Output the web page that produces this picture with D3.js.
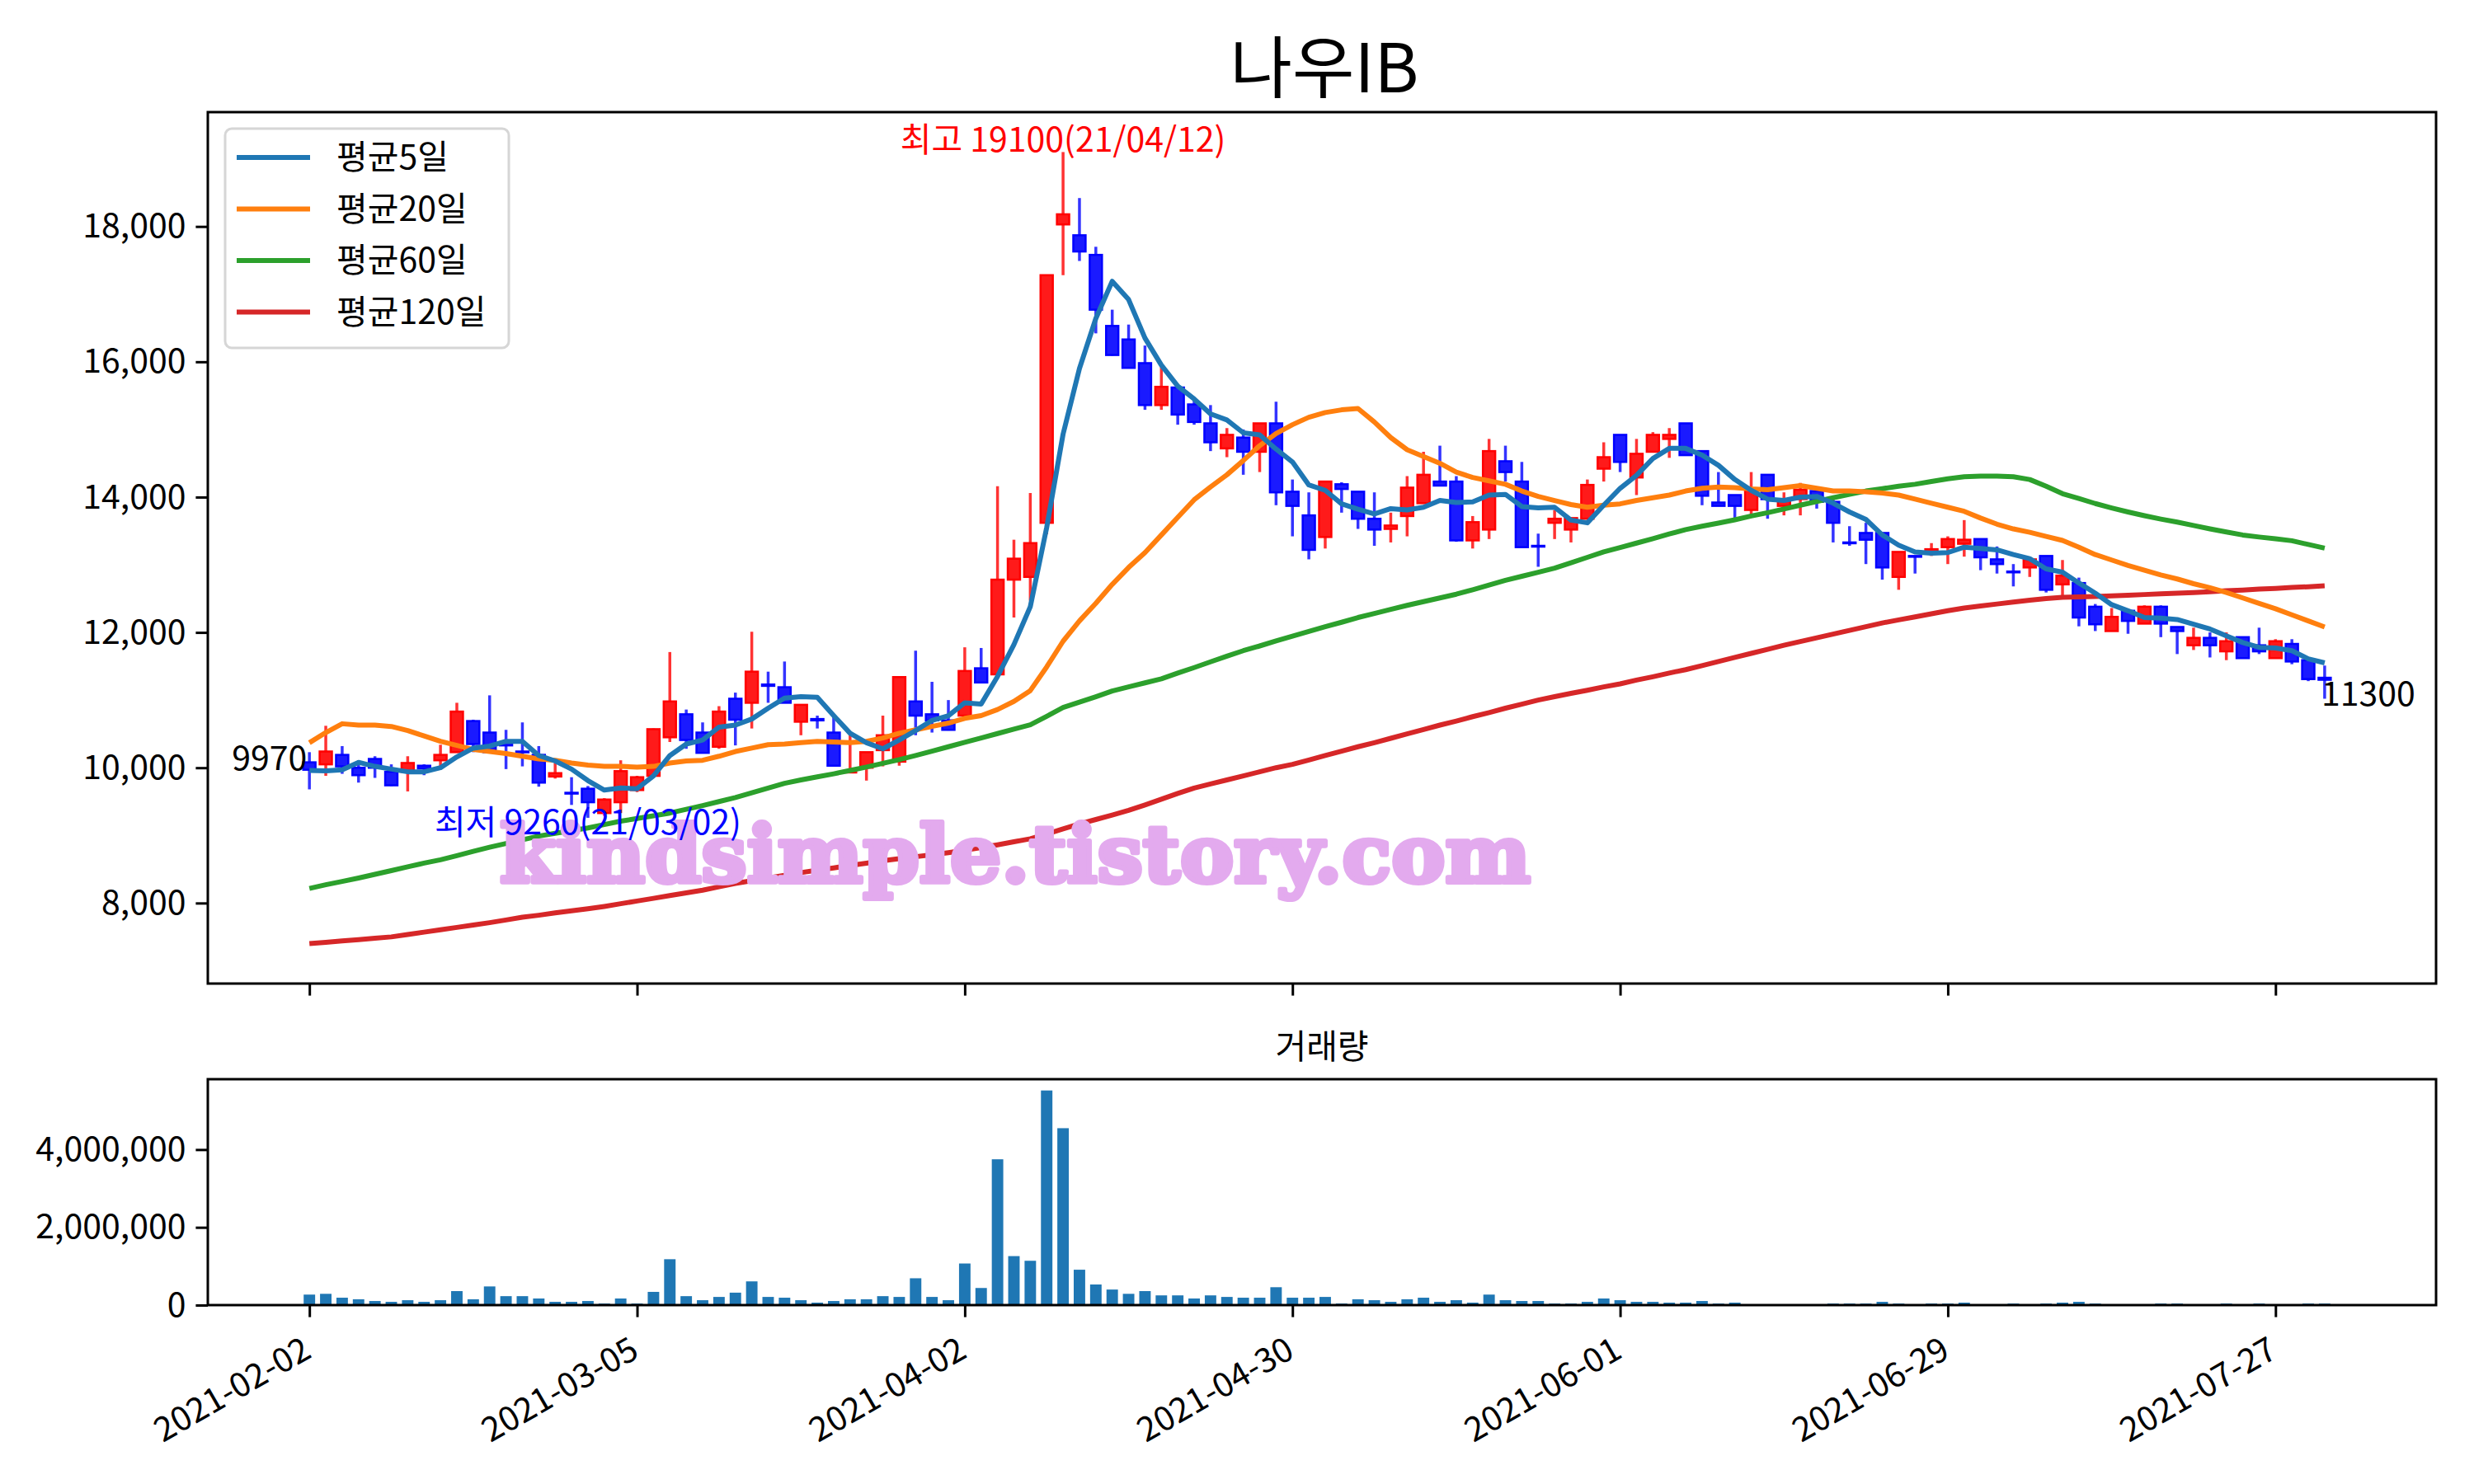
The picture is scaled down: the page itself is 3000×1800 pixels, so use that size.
<!doctype html>
<html>
<head>
<meta charset="utf-8">
<script src="https://d3js.org/d3.v7.min.js"></script>
<style>
  body { margin: 0; background: #fff; }
  text { font-family: "Noto Sans CJK KR", "Noto Sans", sans-serif; }
</style>
</head>
<body>
<svg id="chart" width="3000" height="1800"></svg>
<script>

// daily prices, 2021-02-02 .. 2021-07-30 (124 trading days)
var openP = [10080,10050,10190,10000,10130,9940,9940,10030,10110,10230,10690,10520,10370,10240,10190,9870,9630,9690,9330,9490,
  9670,9880,10450,10790,10520,10310,11020,10960,11230,11190,10680,10720,10520,9930,10000,10260,10090,10980,10790,10700,
  10770,11470,11380,12780,12820,13620,18030,17870,17580,16530,16330,15980,15360,15620,15370,15090,14720,14880,14670,15090,
  14080,13730,13410,14190,14080,13680,13530,13720,13910,14230,14230,13360,13520,14530,14230,13280,13620,13520,13680,14420,
  14920,14290,14670,14860,15090,14680,13920,14030,13810,14330,13870,13970,14090,13930,13330,13470,13470,12820,13130,13190,
  13260,13310,13380,13080,12900,12960,13130,12710,12730,12380,12020,12320,12130,12380,12080,11810,11920,11720,11930,11810,
  11620,11830,11590,11330];
var highP = [10230,10620,10320,10110,10170,10050,10170,10050,10340,10960,10710,11070,10560,10670,10320,10070,9860,9730,9550,10110,
  9880,10580,11710,10860,10670,10910,11110,12010,11420,11570,10930,10770,10770,10480,10230,10770,11340,11730,11270,11000,
  11780,11770,14160,13370,14060,17280,19100,18420,17700,16770,16550,16240,15930,15620,15470,15360,15020,15000,15090,15410,
  14260,14070,14230,14220,14080,14070,13770,14310,14670,14760,14310,13720,14860,14760,14520,13460,13810,13690,14260,14810,
  14920,14860,14960,15020,15090,14680,14370,14030,14370,14330,14070,14210,14090,13970,13570,13620,13470,13190,13130,13320,
  13420,13660,13380,13270,13010,13080,13130,13070,12810,12420,12360,12320,12400,12400,12080,12070,12000,12000,11930,12070,
  11900,11900,11590,11510];
var lowP = [9680,9880,9910,9780,9850,9730,9650,9890,10020,10230,10230,10230,9980,10020,9720,9840,9450,9260,9290,9330,
  9640,9860,10380,10280,10210,10280,10330,10580,10960,10960,10480,10580,10020,9920,9810,10020,10030,10480,10520,10550,
  10770,11260,11380,12220,12470,13450,17280,17490,16420,16090,15910,15290,15290,15070,15070,14680,14590,14330,14370,13880,
  13420,13080,13240,13770,13530,13280,13330,13420,13910,14170,13340,13240,13380,14230,13260,12970,13380,13330,13680,14230,
  14370,14030,14670,14580,14620,13880,13870,13690,13740,13680,13730,13730,13830,13330,13280,13010,12780,12630,12870,13130,
  13010,13120,12920,12870,12680,12820,12590,12530,12090,12020,12020,11980,12130,11930,11680,11740,11630,11590,11620,11680,
  11620,11530,11280,11020];
var closeP = [9970,10240,10020,9890,10000,9740,10070,9990,10190,10830,10350,10230,10330,10230,9780,9920,9620,9490,9530,9950,
  9860,10570,10980,10410,10220,10830,10710,11420,11210,10960,10930,10700,10030,9950,10230,10480,11340,10770,10700,10560,
  11430,11260,12780,13090,13320,17280,18180,17630,16770,16100,15910,15360,15630,15220,15110,14810,14920,14670,15090,14070,
  13870,13220,14230,14120,13680,13520,13580,14140,14330,14170,13360,13630,14680,14370,13260,13270,13680,13690,14180,14590,
  14520,14640,14920,14920,14620,14020,13870,13870,14110,13970,13940,14110,13930,13620,13320,13370,12960,13190,13120,13230,
  13380,13370,13110,13010,12890,13080,12630,12840,12220,12120,12230,12170,12380,12130,12020,11920,11810,11870,11620,11720,
  11870,11570,11310,11300];
var volume = [270000,290000,190000,150000,105000,84000,126000,84000,126000,360000,150000,480000,230000,230000,170000,84000,84000,105000,40000,170000,
  40000,340000,1180000,230000,126000,210000,320000,610000,210000,190000,126000,63000,105000,150000,150000,230000,210000,690000,210000,126000,
  1070000,440000,3750000,1260000,1140000,5520000,4550000,910000,530000,400000,290000,360000,250000,250000,170000,250000,210000,190000,190000,460000,
  190000,190000,210000,40000,150000,126000,84000,150000,190000,84000,126000,63000,270000,126000,105000,105000,40000,40000,84000,170000,
  126000,84000,84000,63000,63000,105000,40000,63000,5000,5000,5000,5000,5000,40000,40000,40000,84000,40000,5000,40000,
  40000,63000,5000,5000,40000,5000,40000,63000,84000,40000,5000,5000,5000,40000,40000,5000,5000,40000,5000,40000,
  5000,5000,40000,40000];

// moving averages as drawn
var ma5 = [9960,9955,9970,10080,10020,9980,9940,9940,10000,10160,10290,10320,10390,10390,10180,10100,9980,9810,9670,9700,
  9690,9880,10180,10350,10410,10600,10630,10720,10880,11030,11050,11040,10770,10510,10370,10280,10410,10550,10700,10770,
  10960,10940,11350,11820,12380,13550,14930,15900,16640,17190,16920,16350,15950,15640,15450,15230,15140,14950,14920,14710,
  14520,14180,14100,13900,13820,13750,13830,13810,13850,13950,13920,13930,14030,14040,13860,13840,13850,13660,13620,13880,
  14130,14320,14570,14720,14720,14620,14470,14260,14100,13970,13950,14000,14010,13910,13780,13670,13440,13290,13190,13170,
  13180,13260,13240,13220,13150,13090,12940,12890,12730,12580,12410,12320,12220,12210,12190,12120,12050,11950,11850,11780,
  11770,11730,11610,11550];
var ma20 = [10370,10520,10650,10630,10630,10610,10550,10470,10390,10330,10270,10240,10210,10170,10130,10110,10070,10040,10020,10020,
  10010,10020,10070,10100,10110,10170,10240,10290,10340,10350,10370,10390,10380,10370,10390,10440,10510,10560,10610,10660,
  10730,10770,10860,10980,11140,11490,11870,12170,12430,12710,12960,13180,13440,13700,13960,14150,14330,14540,14760,14940,
  15070,15180,15250,15290,15310,15110,14880,14700,14600,14500,14370,14290,14240,14190,14090,14010,13950,13890,13850,13880,
  13900,13950,13990,14030,14090,14130,14150,14140,14120,14110,14140,14170,14130,14090,14090,14080,14060,14030,13970,13910,
  13850,13790,13690,13600,13530,13480,13420,13360,13260,13150,13070,12990,12920,12850,12790,12720,12660,12590,12510,12430,
  12350,12260,12170,12080];
var ma60 = [8215,8270,8320,8370,8425,8480,8535,8590,8640,8700,8765,8825,8880,8935,8990,9030,9070,9110,9160,9210,
  9250,9290,9330,9385,9440,9500,9560,9630,9700,9770,9820,9865,9910,9960,10010,10065,10120,10180,10245,10310,
  10375,10440,10505,10570,10635,10760,10890,10970,11050,11135,11195,11255,11315,11400,11480,11565,11650,11730,11800,11875,
  11945,12015,12085,12150,12220,12280,12340,12400,12455,12510,12565,12630,12700,12770,12830,12890,12950,13030,13110,13190,
  13255,13320,13385,13455,13520,13570,13615,13665,13720,13770,13825,13880,13935,13990,14040,14090,14125,14160,14190,14230,
  14270,14300,14310,14310,14300,14260,14160,14050,13980,13905,13840,13780,13725,13675,13630,13580,13530,13485,13440,13410,
  13385,13355,13300,13245];
var ma120 = [7400,7420,7440,7460,7480,7500,7535,7570,7605,7640,7675,7710,7750,7790,7820,7855,7885,7915,7950,7990,
  8030,8070,8110,8150,8190,8240,8290,8330,8370,8410,8450,8485,8520,8555,8590,8625,8655,8685,8715,8745,
  8780,8820,8860,8905,8950,9020,9095,9170,9235,9300,9370,9450,9535,9620,9700,9760,9820,9880,9940,10000,
  10050,10115,10180,10245,10310,10370,10435,10500,10565,10630,10690,10755,10815,10880,10940,11000,11050,11100,11145,11195,
  11240,11295,11345,11400,11450,11510,11570,11630,11690,11750,11810,11865,11920,11975,12030,12085,12140,12185,12230,12275,
  12320,12360,12390,12420,12450,12475,12500,12520,12525,12530,12540,12550,12560,12570,12580,12590,12600,12615,12625,12640,
  12650,12665,12675,12690];

var tickIdx = [0, 20, 40, 60, 80, 100, 120];
var tickLabels = ["2021-02-02","2021-03-05","2021-04-02","2021-04-30","2021-06-01","2021-06-29","2021-07-27"];
var priceTicks = [8000, 10000, 12000, 14000, 16000, 18000];
var volTicks = [0, 2000000, 4000000];
var maNames = ["평균5일","평균20일","평균60일","평균120일"];
var maColors = ["#1f77b4","#ff7f0e","#2ca02c","#d62728"];

var svg = d3.select("#chart");
var N = closeP.length;

var x = d3.scaleLinear().domain([-6.2, 129.8]).range([252, 2954]);
var yP = d3.scaleLinear().domain([6810, 19690]).range([1193, 136]);
var yV = d3.scaleLinear().domain([0, 5810000]).range([1583, 1309]);

var fmt = d3.format(",");
var fs = 41;

// title
svg.append("text")
   .attr("x", 1606).attr("y", 112)
   .attr("text-anchor", "middle")
   .attr("font-size", 82)
   .text("나우IB");

// ---- price panel ----
var yAxis = svg.append("g")
   .attr("transform", "translate(252,0)")
   .call(d3.axisLeft(yP).tickValues(priceTicks).tickFormat(fmt).tickSize(14.6).tickPadding(12));
yAxis.select(".domain").remove();
yAxis.selectAll("line").attr("stroke-width", 3);
yAxis.selectAll("text").attr("font-size", fs).attr("fill", "#000");

var xAxisTop = svg.append("g")
   .attr("transform", "translate(0,1193)")
   .call(d3.axisBottom(x).tickValues(tickIdx).tickFormat("").tickSize(14.6));
xAxisTop.select(".domain").remove();
xAxisTop.selectAll("line").attr("stroke-width", 3);

var bw = x(0.75) - x(0);
var isUp = function(i) { return closeP[i] >= openP[i]; };

var cg = svg.append("g");
cg.selectAll(".wick")
  .data(d3.range(N))
  .enter().append("line")
  .attr("x1", function(i) { return x(i); })
  .attr("x2", function(i) { return x(i); })
  .attr("y1", function(i) { return yP(highP[i]); })
  .attr("y2", function(i) { return yP(lowP[i]); })
  .attr("stroke", function(i) { return isUp(i) ? "#ff3333" : "#3333ff"; })
  .attr("stroke-width", 3.5);

cg.selectAll(".body")
  .data(d3.range(N))
  .enter().append("rect")
  .attr("x", function(i) { return x(i) - bw / 2; })
  .attr("y", function(i) { return yP(Math.max(openP[i], closeP[i])); })
  .attr("width", bw)
  .attr("height", function(i) { return Math.max(1, Math.abs(yP(openP[i]) - yP(closeP[i]))); })
  .attr("fill", function(i) { return isUp(i) ? "#ff1a1a" : "#1a1aff"; })
  .attr("stroke", function(i) { return isUp(i) ? "#ff0000" : "#0000ff"; })
  .attr("stroke-width", 2.5);

var line = d3.line()
   .x(function(d, i) { return x(i); })
   .y(function(d) { return yP(d); });

[ma120, ma60, ma20, ma5].forEach(function(s, k) {
  svg.append("path")
     .datum(s)
     .attr("d", line)
     .attr("fill", "none")
     .attr("stroke", maColors[3 - k])
     .attr("stroke-width", 6)
     .attr("stroke-linejoin", "round");
});

// watermark (opaque, over the lines)
svg.append("text")
   .attr("x", 606).attr("y", 1070)
   .style("font-family", "'DejaVu Serif', 'Liberation Serif', serif")
   .style("font-weight", "bold")
   .attr("font-size", 96)
   .attr("textLength", 1250)
   .attr("lengthAdjust", "spacingAndGlyphs")
   .attr("fill", "#e3aaee")
   .attr("stroke", "#e3aaee")
   .attr("stroke-width", 6)
   .attr("stroke-linejoin", "round")
   .text("kindsimple.tistory.com");

// annotations
var hiIdx = highP.indexOf(d3.max(highP));
var loIdx = lowP.indexOf(d3.min(lowP));
svg.append("text")
   .attr("x", x(hiIdx)).attr("y", yP(highP[hiIdx]))
   .attr("text-anchor", "middle").attr("font-size", fs).attr("fill", "red")
   .text("최고 " + highP[hiIdx] + "(21/04/12)");
svg.append("text")
   .attr("x", x(loIdx)).attr("y", yP(lowP[loIdx]) + 20)
   .attr("text-anchor", "middle").attr("font-size", fs).attr("fill", "blue")
   .text("최저 " + lowP[loIdx] + "(21/03/02)");
svg.append("text")
   .attr("x", x(0) - 3).attr("y", yP(closeP[0]))
   .attr("text-anchor", "end").attr("font-size", fs)
   .text(closeP[0]);
svg.append("text")
   .attr("x", x(N - 1) - 4).attr("y", yP(closeP[N - 1]) + 31)
   .attr("font-size", fs)
   .text(closeP[N - 1]);

// legend
var lg = svg.append("g");
lg.append("rect")
  .attr("x", 273).attr("y", 156).attr("width", 344).attr("height", 266)
  .attr("rx", 8)
  .attr("fill", "#fff").attr("fill-opacity", 0.8)
  .attr("stroke", "#d6d6d6").attr("stroke-width", 3);
maNames.forEach(function(name, k) {
  var yy = 191 + k * 62.5;
  lg.append("line").attr("x1", 287).attr("x2", 376).attr("y1", yy).attr("y2", yy)
    .attr("stroke", maColors[k]).attr("stroke-width", 6);
  lg.append("text").attr("x", 408).attr("y", yy + 14).attr("font-size", fs).text(name);
});

svg.append("rect")
   .attr("x", 252).attr("y", 136).attr("width", 2702).attr("height", 1057)
   .attr("fill", "none").attr("stroke", "#000").attr("stroke-width", 3);

// ---- volume panel ----
svg.append("text")
   .attr("x", 1603).attr("y", 1284)
   .attr("text-anchor", "middle").attr("font-size", fs)
   .text("거래량");

var vbw = x(0.7) - x(0);
svg.append("g").selectAll("rect")
   .data(volume)
   .enter().append("rect")
   .attr("x", function(d, i) { return x(i) - vbw / 2; })
   .attr("y", function(d) { return yV(d); })
   .attr("width", vbw)
   .attr("height", function(d) { return yV(0) - yV(d); })
   .attr("fill", "#1f77b4");

var vAxis = svg.append("g")
   .attr("transform", "translate(252,0)")
   .call(d3.axisLeft(yV).tickValues(volTicks).tickFormat(fmt).tickSize(14.6).tickPadding(12));
vAxis.select(".domain").remove();
vAxis.selectAll("line").attr("stroke-width", 3);
vAxis.selectAll("text").attr("font-size", fs).attr("fill", "#000");

var xAxisB = svg.append("g")
   .attr("transform", "translate(0,1583)")
   .call(d3.axisBottom(x).tickValues(tickIdx).tickFormat(function(d, i) { return tickLabels[i]; }).tickSize(14.6));
xAxisB.select(".domain").remove();
xAxisB.selectAll("line").attr("stroke-width", 3);
xAxisB.selectAll("text")
   .attr("font-size", fs).attr("fill", "#000")
   .attr("text-anchor", "end")
   .attr("dy", null)
   .attr("y", null)
   .attr("transform", "translate(4,62) rotate(-30)");

svg.append("rect")
   .attr("x", 252).attr("y", 1309).attr("width", 2702).attr("height", 274)
   .attr("fill", "none").attr("stroke", "#000").attr("stroke-width", 3);

</script>
</body>
</html>
